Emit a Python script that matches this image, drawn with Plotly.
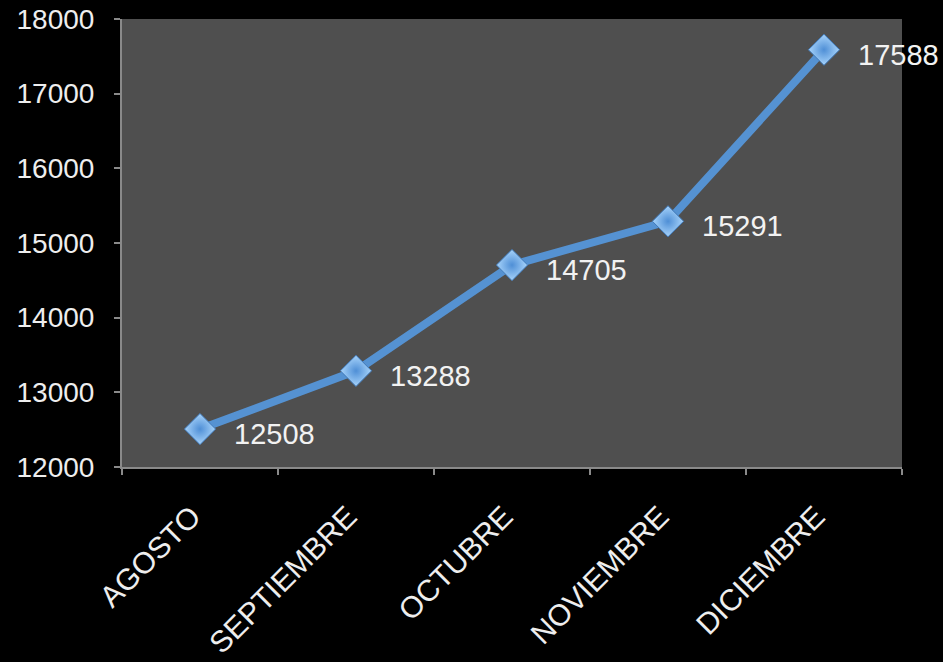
import plotly.graph_objects as go

months = ["AGOSTO", "SEPTIEMBRE", "OCTUBRE", "NOVIEMBRE", "DICIEMBRE"]
values = [12508, 13288, 14705, 15291, 17588]
y_ticks = [12000, 13000, 14000, 15000, 16000, 17000, 18000]

FONT = "Liberation Sans, Arial, Helvetica, sans-serif"

fig = go.Figure()
fig.add_trace(go.Scatter(
    x=months, y=values, mode="lines+markers",
    line=dict(color="#5592d2", width=8),
    marker=dict(symbol="diamond", size=24, color="#a8d4fb",
                gradient=dict(type="radial", color="#4f8fd6"),
                line=dict(color="#3f78b8", width=1)),
    hoverinfo="skip", showlegend=False,
))

for m, v in zip(months, values):
    fig.add_annotation(x=m, y=v, text=str(v), showarrow=False,
                       xanchor="left", yanchor="middle", xshift=32, yshift=-5,
                       font=dict(family=FONT, size=29, color="#f2f2f2"))

fig.update_layout(
    width=943, height=662,
    margin=dict(l=122, r=41, t=19, b=195),
    paper_bgcolor="#000000", plot_bgcolor="#4f4f4f",
    font=dict(family=FONT, size=28, color="#eeeeee"),
)
fig.update_xaxes(
    type="category", range=[-0.5, 4.5], tickangle=-45, automargin=False,
    showline=True, linecolor="#8a8a8a", linewidth=2,
    ticks="outside", ticklen=6, tickcolor="#8a8a8a", tickwidth=2,
    tickson="boundaries", showgrid=False, zeroline=False,
    ticklabelstandoff=18, ticklabelshift=-8,
    tickfont=dict(family=FONT, size=30, color="#eeeeee"),
)
fig.update_yaxes(
    range=[12000, 18000], tickvals=y_ticks, tickformat="d", automargin=False,
    showline=True, linecolor="#8a8a8a", linewidth=2,
    ticks="outside", ticklen=6, tickcolor="#8a8a8a", tickwidth=2,
    showgrid=False, zeroline=False, ticklabelstandoff=14,
    tickfont=dict(family=FONT, size=28, color="#eeeeee"),
)

fig.write_html(
    "out.html",
    config={"displayModeBar": False},
    post_script="document.body.style.margin='0';document.body.style.background='#000';",
)
